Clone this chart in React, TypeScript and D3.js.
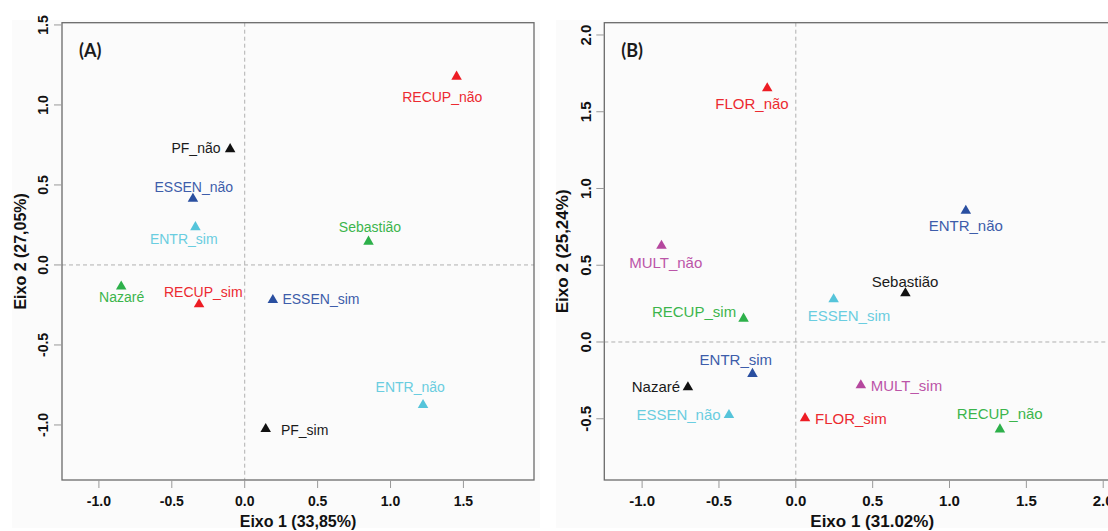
import React from "react";
import * as d3 from "d3";

// ---------- Panel A data ----------
const labelsA = ["RECUP_não", "PF_não", "ESSEN_não", "ENTR_sim", "Sebastião", "Nazaré", "RECUP_sim", "ESSEN_sim", "ENTR_não", "PF_sim"];
const groupsA = ["RECUP", "PF", "ESSEN", "ENTR", "site", "site", "RECUP", "ESSEN", "ENTR", "PF"];
const dim1A = [1.453, -0.1, -0.355, -0.338, 0.849, -0.847, -0.313, 0.193, 1.223, 0.144];
const dim2A = [1.177, 0.724, 0.414, 0.236, 0.146, -0.135, -0.246, -0.219, -0.875, -1.025];
const textXA = [1.355, -0.334, -0.349, -0.418, 0.859, -0.844, -0.284, 0.523, 1.135, 0.411];
const textYA = [1.052, 0.733, 0.489, 0.161, 0.236, -0.202, -0.167, -0.213, -0.761, -1.035];
const xTicksA = [-1, -0.5, 0, 0.5, 1, 1.5];
const xTickLabelsA = ["-1.0", "-0.5", "0.0", "0.5", "1.0", "1.5"];
const yTicksA = [-1, -0.5, 0, 0.5, 1, 1.5];
const yTickLabelsA = ["-1.0", "-0.5", "0.0", "0.5", "1.0", "1.5"];
const xTitleA = "Eixo 1 (33,85%)";
const yTitleA = "Eixo 2 (27,05%)";

// ---------- Panel B data ----------
const labelsB = ["FLOR_não", "ENTR_não", "MULT_não", "Sebastião", "ESSEN_sim", "RECUP_sim", "ENTR_sim", "Nazaré", "MULT_sim", "ESSEN_não", "FLOR_sim", "RECUP_não"];
const groupsB = ["FLOR", "ENTR", "MULT", "site", "ESSEN", "RECUP", "ENTR", "site", "MULT", "ESSEN", "FLOR", "RECUP"];
const dim1B = [-0.186, 1.106, -0.874, 0.713, 0.246, -0.34, -0.282, -0.702, 0.423, -0.435, 0.06, 1.328];
const dim2B = [1.653, 0.855, 0.627, 0.317, 0.278, 0.152, -0.208, -0.295, -0.282, -0.476, -0.497, -0.569];
const textXB = [-0.285, 1.106, -0.846, 0.711, 0.346, -0.662, -0.39, -0.91, 0.72, -0.763, 0.358, 1.327];
const textYB = [1.55, 0.756, 0.519, 0.391, 0.171, 0.195, -0.113, -0.291, -0.287, -0.476, -0.497, -0.469];
const xTicksB = [-1, -0.5, 0, 0.5, 1, 1.5, 2];
const xTickLabelsB = ["-1.0", "-0.5", "0.0", "0.5", "1.0", "1.5", "2.0"];
const yTicksB = [-0.5, 0, 0.5, 1, 1.5, 2];
const yTickLabelsB = ["-0.5", "0.0", "0.5", "1.0", "1.5", "2.0"];
const xTitleB = "Eixo 1 (31.02%)";
const yTitleB = "Eixo 2 (25,24%)";

// ---------- styles ----------
const markColorsA: Record<string, string> = { RECUP: "#ED1C24", PF: "#111111", ESSEN: "#2A4FA0", ENTR: "#55C4DA", site: "#2DB04A" };
const textColorsA: Record<string, string> = { RECUP: "#EC2A31", PF: "#1a1a1a", ESSEN: "#3D5DAA", ENTR: "#6ACDE0", site: "#3BB54C" };
const markColorsB: Record<string, string> = { FLOR: "#ED1C24", ENTR: "#2A4FA0", MULT: "#B5479E", site: "#111111", ESSEN: "#55C4DA", RECUP: "#2DB04A" };
const textColorsB: Record<string, string> = { FLOR: "#EC2A31", ENTR: "#3D5DAA", MULT: "#BB55A8", site: "#1a1a1a", ESSEN: "#6ACDE0", RECUP: "#3BB54C" };

const FONT = "'Liberation Sans', Arial, Helvetica, sans-serif";

type PanelProps = {
  tag: string;
  bg: [number, number, number, number];
  box: { x0: number; x1: number; y0: number; y1: number };
  xDom: [number, number];
  yDom: [number, number];
  labels: string[];
  groups: string[];
  d1: number[];
  d2: number[];
  tx: number[];
  ty: number[];
  xTicks: number[];
  xTickLabels: string[];
  yTicks: number[];
  yTickLabels: string[];
  xTitle: string;
  yTitle: string;
  markColors: Record<string, string>;
  textColors: Record<string, string>;
  labelSize: number;
  tickSize: number;
  titleSize: number;
  clipId: string;
};

function Panel(p: PanelProps) {
  const x = d3.scaleLinear().domain(p.xDom).range([p.box.x0, p.box.x1]);
  const y = d3.scaleLinear().domain(p.yDom).range([p.box.y1, p.box.y0]);
  const tri = d3.symbol().type(d3.symbolTriangle).size(48)();
  const midY = (p.box.y0 + p.box.y1) / 2;
  const midX = (p.box.x0 + p.box.x1) / 2;
  return (
    <g>
      <rect x={p.bg[0]} y={p.bg[1]} width={p.bg[2]} height={p.bg[3]} fill="#fbfbfb" />
      <defs>
        <clipPath id={p.clipId}>
          <rect x={p.box.x0} y={p.box.y0} width={p.box.x1 - p.box.x0} height={p.box.y1 - p.box.y0} />
        </clipPath>
      </defs>
      <g clipPath={`url(#${p.clipId})`}>
        <line x1={x(0)} x2={x(0)} y1={p.box.y0} y2={p.box.y1} stroke="#b0b0b0" strokeWidth={1} strokeDasharray="4,3" />
        <line x1={p.box.x0} x2={p.box.x1} y1={y(0)} y2={y(0)} stroke="#b0b0b0" strokeWidth={1} strokeDasharray="4,3" />
      </g>
      <rect x={p.box.x0} y={p.box.y0} width={p.box.x1 - p.box.x0} height={p.box.y1 - p.box.y0} fill="none" stroke="#6a6a6a" strokeWidth={1.3} />
      {p.xTicks.map((t, i) => (
        <g key={"xt" + i}>
          <line x1={x(t)} x2={x(t)} y1={p.box.y1} y2={p.box.y1 + 8} stroke="#999" strokeWidth={1} />
          <text x={x(t)} y={p.box.y1 + 21} dy="0.35em" textAnchor="middle" fontFamily={FONT} fontWeight="bold" fontSize={p.tickSize} fill="#111">
            {p.xTickLabels[i]}
          </text>
        </g>
      ))}
      {p.yTicks.map((t, i) => (
        <g key={"yt" + i}>
          <line x1={p.box.x0 - 8} x2={p.box.x0} y1={y(t)} y2={y(t)} stroke="#999" strokeWidth={1} />
          <text transform={`translate(${p.box.x0 - 19},${y(t)}) rotate(-90)`} dy="0.35em" textAnchor="middle" fontFamily={FONT} fontWeight="bold" fontSize={p.tickSize} fill="#111">
            {p.yTickLabels[i]}
          </text>
        </g>
      ))}
      <text x={midX} y={p.box.y1 + 41} dy="0.35em" textAnchor="middle" fontFamily={FONT} fontWeight="bold" fontSize={p.titleSize} fill="#111">
        {p.xTitle}
      </text>
      <text transform={`translate(${p.box.x0 - 42},${midY}) rotate(-90)`} dy="0.35em" textAnchor="middle" fontFamily={FONT} fontWeight="bold" fontSize={p.titleSize} fill="#111">
        {p.yTitle}
      </text>
      <text x={p.box.x0 + 17} y={p.box.y0 + 28} dy="0.35em" fontFamily="Lato, 'Open Sans', sans-serif" fontWeight="bold" fontSize={18} fill="#1a1a1a">
        {p.tag}
      </text>
      {p.labels.map((lab, i) => (
        <g key={"pt" + i}>
          <path d={tri || ""} transform={`translate(${x(p.d1[i])},${y(p.d2[i])})`} fill={p.markColors[p.groups[i]]} />
          <text x={x(p.tx[i])} y={y(p.ty[i])} dy="0.35em" textAnchor="middle" fontFamily={FONT} fontSize={p.labelSize} fill={p.textColors[p.groups[i]]}>
            {lab}
          </text>
        </g>
      ))}
    </g>
  );
}

export default function App() {
  return (
    <svg width={1108} height={531} style={{ position: "absolute", left: 0, top: 0, background: "#ffffff" }}>
      <Panel
        tag="(A)"
        bg={[12, 20, 528, 508]}
        box={{ x0: 62, x1: 534, y0: 22.7, y1: 480 }}
        xDom={[-1.253, 1.984]}
        yDom={[-1.344, 1.514]}
        labels={labelsA}
        groups={groupsA}
        d1={dim1A}
        d2={dim2A}
        tx={textXA}
        ty={textYA}
        xTicks={xTicksA}
        xTickLabels={xTickLabelsA}
        yTicks={yTicksA}
        yTickLabels={yTickLabelsA}
        xTitle={xTitleA}
        yTitle={yTitleA}
        markColors={markColorsA}
        textColors={textColorsA}
        labelSize={14}
        tickSize={14}
        titleSize={16}
        clipId="clipA"
      />
      <Panel
        tag="(B)"
        bg={[556, 20, 552, 508]}
        box={{ x0: 604.3, x1: 1140.1, y0: 22.7, y1: 480 }}
        xDom={[-1.246, 2.24]}
        yDom={[-0.899, 2.08]}
        labels={labelsB}
        groups={groupsB}
        d1={dim1B}
        d2={dim2B}
        tx={textXB}
        ty={textYB}
        xTicks={xTicksB}
        xTickLabels={xTickLabelsB}
        yTicks={yTicksB}
        yTickLabels={yTickLabelsB}
        xTitle={xTitleB}
        yTitle={yTitleB}
        markColors={markColorsB}
        textColors={textColorsB}
        labelSize={15}
        tickSize={15}
        titleSize={17}
        clipId="clipB"
      />
    </svg>
  );
}
